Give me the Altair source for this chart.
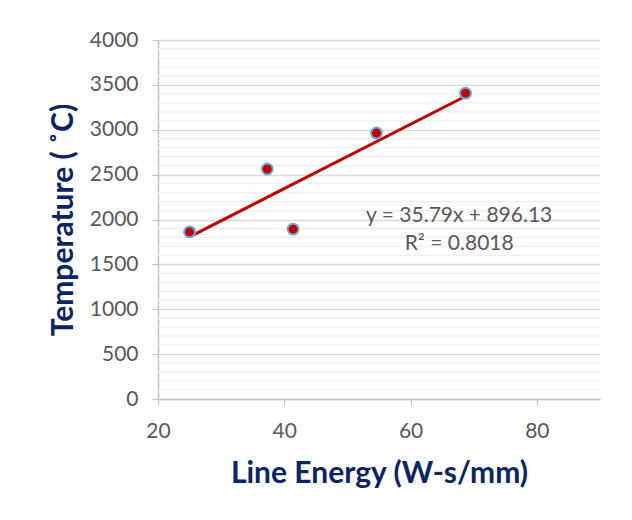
import altair as alt
import pandas as pd

line_energy = [25.0, 37.3, 41.4, 54.6, 68.7]
temperature = [1862, 2563, 1893, 2963, 3408]
eq_lines = ["y = 35.79x + 896.13", "R² = 0.8018"]
eq_x = [67.7, 67.7]
eq_y = [2040, 1730]
y_major = [0, 500, 1000, 1500, 2000, 2500, 3000, 3500, 4000]
y_minor = [v for v in range(0, 4001, 100) if v % 500 != 0]
x_ticks = [20, 40, 60, 80]

df = pd.DataFrame({"x": line_energy, "y": temperature})
eq_df = pd.DataFrame({"x": eq_x, "y": eq_y, "t": eq_lines})
minor_df = pd.DataFrame({"y": y_minor})

FONT = "Lato"
GRAY = "#595959"
NAVY = "#0b2463"

xs = alt.Scale(domain=[20, 90], nice=False, zero=False)
ys = alt.Scale(domain=[0, 4000], nice=False)

x_axis = alt.Axis(
    values=x_ticks, grid=False, title="Line Energy (W-s/mm)", format="d",
    labelFont=FONT, labelFontSize=21, labelColor=GRAY, labelPadding=15,
    labelFlush=False, labelOverlap=False,
    domainColor="#bfbfbf", tickColor="#bfbfbf", tickSize=6, domainWidth=1.5,
    titleFont=FONT, titleFontSize=30, titleFontWeight="bold", titleColor=NAVY,
    titlePadding=17,
)
y_axis = alt.Axis(
    values=y_major, title="Temperature ( ˚C)", format="d",
    labelFlush=False, labelOverlap=False,
    gridColor="#d9d9d9", gridWidth=1.5,
    labelFont=FONT, labelFontSize=21, labelColor=GRAY, labelPadding=14,
    domainColor="#bfbfbf", tickColor="#bfbfbf", tickSize=6, domainWidth=1.5,
    titleFont=FONT, titleFontSize=30, titleFontWeight="bold", titleColor=NAVY,
    titlePadding=11,
)

minor = alt.Chart(minor_df).mark_rule(color="#efefef", strokeWidth=1.3).encode(
    y=alt.Y("y:Q", scale=ys, axis=y_axis)
)

base = alt.Chart(df)

trend = base.transform_regression("x", "y").mark_line(
    color="#c00000", strokeWidth=3
).encode(x=alt.X("x:Q", scale=xs, axis=x_axis), y=alt.Y("y:Q", scale=ys, axis=y_axis))

pts = base.mark_point(
    filled=True, fill="#c00000", stroke="#6fa8dc", strokeWidth=2, size=120, opacity=1
).encode(x=alt.X("x:Q", scale=xs), y=alt.Y("y:Q", scale=ys))

eq = alt.Chart(eq_df).mark_text(
    font=FONT, fontSize=21, color=GRAY, align="center"
).encode(x=alt.X("x:Q", scale=xs), y=alt.Y("y:Q", scale=ys), text="t:N")

chart = alt.layer(minor, trend, pts, eq).properties(
    width=442, height=359,
    padding={"left": 158, "top": 40, "right": 32, "bottom": 121},
    autosize=alt.AutoSizeParams(type="none"),
    background="white",
).configure_view(stroke=None)

chart.save("out.html", embed_options={"renderer": "svg", "actions": False})
